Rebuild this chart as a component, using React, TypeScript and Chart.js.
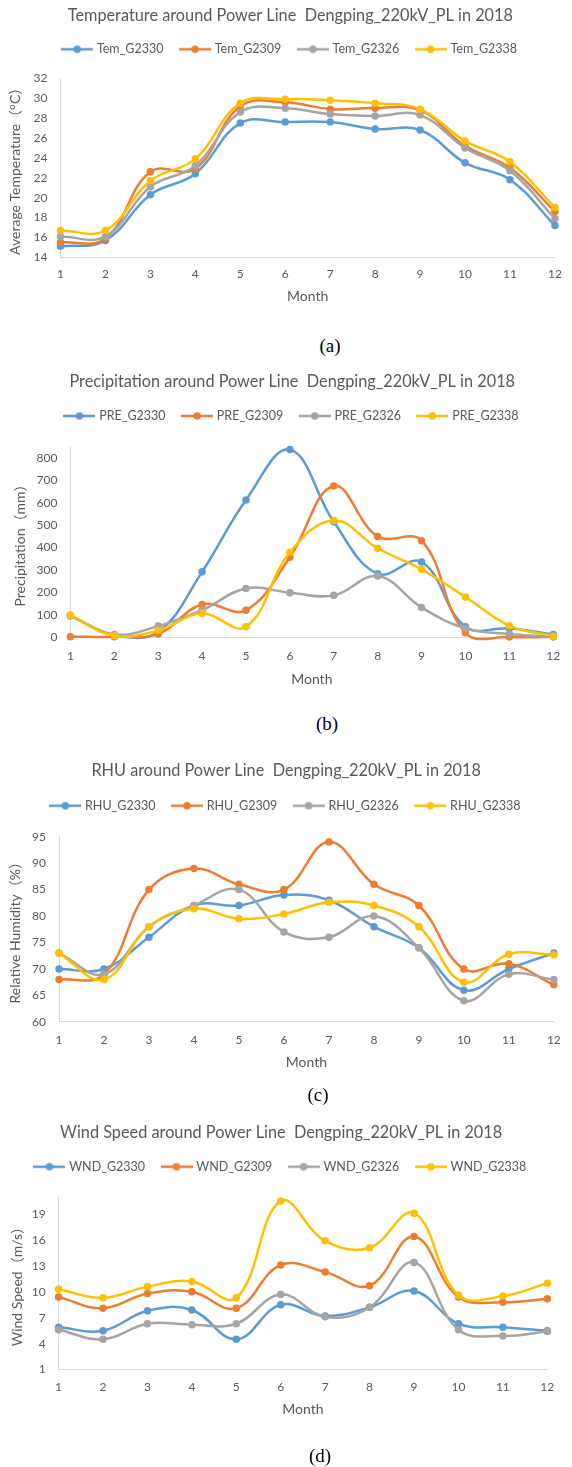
import React, { useEffect, useRef } from "react";
import { Chart, registerables } from "chart.js";

Chart.register(...registerables);

// ---------- data ----------
const months = ["1", "2", "3", "4", "5", "6", "7", "8", "9", "10", "11", "12"];
const stationIds = ["G2330", "G2309", "G2326", "G2338"];
const seriesColors = ["#5B9BD5", "#ED7D31", "#A5A5A5", "#FFC000"];

const temG2330 = [15.1, 15.7, 20.3, 22.4, 27.5, 27.6, 27.6, 26.9, 26.8, 23.5, 21.8, 17.2];
const temG2309 = [15.5, 15.9, 22.6, 22.9, 29.2, 29.6, 28.9, 29.0, 28.8, 25.2, 23.0, 18.6];
const temG2326 = [16.1, 16.1, 21.1, 23.2, 28.6, 29.0, 28.4, 28.2, 28.3, 25.0, 22.7, 17.9];
const temG2338 = [16.7, 16.7, 21.7, 23.9, 29.5, 29.9, 29.8, 29.5, 28.9, 25.7, 23.6, 19.0];
const temTicks = [14, 16, 18, 20, 22, 24, 26, 28, 30, 32];

const preG2330 = [96, 10, 25, 292, 612, 837, 515, 283, 336, 47, 40, 12];
const preG2309 = [3, 2, 15, 146, 121, 357, 675, 450, 431, 20, 1, 2];
const preG2326 = [96, 13, 50, 121, 218, 199, 187, 273, 133, 40, 15, 3];
const preG2338 = [99, 7, 31, 106, 47, 379, 521, 397, 303, 180, 52, 5];
const preTicks = [0, 100, 200, 300, 400, 500, 600, 700, 800];

const rhuG2330 = [70, 70, 76, 82, 82, 84, 83, 78, 74, 66, 70, 73];
const rhuG2309 = [68, 69, 85, 89, 86, 85, 94, 86, 82, 70, 71, 67];
const rhuG2326 = [73, 69, 78, 82, 85, 77, 76, 80, 74, 64, 69, 68];
const rhuG2338 = [73, 68, 78, 81.4, 79.5, 80.4, 82.6, 82, 78, 67.5, 72.8, 72.7];
const rhuTicks = [60, 65, 70, 75, 80, 85, 90, 95];

const wndG2330 = [5.9, 5.5, 7.8, 7.9, 4.5, 8.5, 7.2, 8.2, 10.1, 6.3, 5.9, 5.5];
const wndG2309 = [9.4, 8.1, 9.8, 10.0, 8.1, 13.1, 12.3, 10.7, 16.4, 9.4, 8.8, 9.2];
const wndG2326 = [5.6, 4.5, 6.3, 6.2, 6.3, 9.7, 7.1, 8.2, 13.4, 5.6, 4.9, 5.4];
const wndG2338 = [10.3, 9.3, 10.6, 11.2, 9.3, 20.5, 15.9, 15.1, 19.1, 9.6, 9.5, 11.0];
const wndTicks = [1, 4, 7, 10, 13, 16, 19];

// ---------- style ----------
const FONT = "Lato, 'Noto Sans CJK SC', sans-serif";
const TEXT = "#595959";
const AXIS = "#D9D9D9";
const TITLE_FS = 16.3;
const LEGEND_FS = 12.5;
const TICK_FS = 12;
const AXIS_FS = 14;
const LEGEND_PAD = 18;

type Layout = {
  top: number;
  padLeft: number;
  titleY: number;
  legendY: number;
  plotTop: number;
  plotBottom: number;
  tickY: number;
  axisTitleY: number;
  plotLeft: number;
  plotRight: number;
  yTitleX: number;
};

type Panel = {
  title: string;
  yTitle: string;
  prefix: string;
  series: number[][];
  min: number;
  max: number;
  ticks: number[];
  layout: Layout;
};

const panels: Panel[] = [
  {
    title: "Temperature around Power Line  Dengping_220kV_PL in 2018",
    yTitle: "Average Temperature（°C）",
    prefix: "Tem",
    series: [temG2330, temG2309, temG2326, temG2338],
    min: 14,
    max: 32,
    ticks: temTicks,
    layout: { top: 0, padLeft: 19, titleY: 16, legendY: 49.3, plotTop: 78.3, plotBottom: 257.7, tickY: 275, axisTitleY: 297, plotLeft: 60.5, plotRight: 561.7, yTitleX: 15 },
  },
  {
    title: "Precipitation around Power Line  Dengping_220kV_PL in 2018",
    yTitle: "Precipitation（mm）",
    prefix: "PRE",
    series: [preG2330, preG2309, preG2326, preG2338],
    min: 0,
    max: 850,
    ticks: preTicks,
    layout: { top: 360, padLeft: 19, titleY: 381.7, legendY: 416, plotTop: 446.7, plotBottom: 637.7, tickY: 656.7, axisTitleY: 680, plotLeft: 70.4, plotRight: 565.5, yTitleX: 20.7 },
  },
  {
    title: "RHU around Power Line  Dengping_220kV_PL in 2018",
    yTitle: "Relative Humidity（%）",
    prefix: "RHU",
    series: [rhuG2330, rhuG2309, rhuG2326, rhuG2338],
    min: 60,
    max: 95,
    ticks: rhuTicks,
    layout: { top: 740, padLeft: 13, titleY: 771, legendY: 805.7, plotTop: 836.7, plotBottom: 1022.3, tickY: 1040.7, axisTitleY: 1063, plotLeft: 59, plotRight: 559.3, yTitleX: 15 },
  },
  {
    title: "Wind Speed around Power Line  Dengping_220kV_PL in 2018",
    yTitle: "Wind Speed（m/s）",
    prefix: "WND",
    series: [wndG2330, wndG2309, wndG2326, wndG2338],
    min: 1,
    max: 21,
    ticks: wndTicks,
    layout: { top: 1105, padLeft: 15, titleY: 1133, legendY: 1166.7, plotTop: 1196.7, plotBottom: 1370, tickY: 1388, axisTitleY: 1410, plotLeft: 58.6, plotRight: 547.3, yTitleX: 17.3 },
  },
];

const captions = [
  { text: "(a)", x: 330, y: 345 },
  { text: "(b)", x: 327, y: 723 },
  { text: "(c)", x: 318, y: 1094 },
  { text: "(d)", x: 320, y: 1455 },
];

function makeLegendIcon(color: string): HTMLCanvasElement {
  const c = document.createElement("canvas");
  c.width = 32;
  c.height = 10;
  const g = c.getContext("2d")!;
  g.strokeStyle = color;
  g.lineWidth = 2.5;
  g.beginPath();
  g.moveTo(0, 5);
  g.lineTo(32, 5);
  g.stroke();
  g.fillStyle = color;
  g.beginPath();
  g.arc(16, 5, 3.75, 0, Math.PI * 2);
  g.fill();
  return c;
}

function LinePanel({ panel }: { panel: Panel }) {
  const ref = useRef<HTMLCanvasElement>(null);
  const L = panel.layout;
  const axisLH = AXIS_FS * 1.2;
  const height = Math.round(L.axisTitleY + axisLH / 2 - L.top);

  useEffect(() => {
    if (!ref.current) return;
    const tickLH = TICK_FS * 1.2;
    const titlePadTop = L.titleY - L.top - TITLE_FS * 0.6;
    const titleBottom = L.titleY + TITLE_FS * 0.6;
    const titlePadBottom = L.legendY - LEGEND_FS / 2 - LEGEND_PAD - titleBottom;
    const legendBottom = L.legendY + LEGEND_FS / 2 + 10;
    const spacerPad = L.plotTop - legendBottom - 1;
    const xPad = L.tickY - L.plotBottom - tickLH / 2;
    const monthPadTop = L.axisTitleY - L.plotBottom - 2 * xPad - tickLH - axisLH / 2;
    const icons = seriesColors.map(makeLegendIcon);

    const chart = new Chart(ref.current, {
      type: "line",
      data: {
        labels: months,
        datasets: panel.series.map((d, i) => ({
          label: `${panel.prefix}_${stationIds[i]}`,
          data: d,
          borderColor: seriesColors[i],
          backgroundColor: seriesColors[i],
          pointBackgroundColor: seriesColors[i],
          pointBorderColor: seriesColors[i],
          pointBorderWidth: 0,
          pointRadius: 3.75,
          borderWidth: 2.5,
          tension: 0.4,
          fill: false,
          order: 4 - i,
          clip: { left: 8, right: 8, top: 8, bottom: 4 },
        })),
      },
      options: {
        animation: false,
        responsive: false,
        devicePixelRatio: 1,
        elements: { line: { capBezierPoints: false } },
        layout: { padding: { left: L.padLeft, right: 572 - L.plotRight, top: 0, bottom: 0 } },
        plugins: {
          tooltip: { enabled: false },
          title: {
            display: true,
            text: panel.title,
            color: TEXT,
            font: { family: FONT, size: TITLE_FS, weight: "normal", lineHeight: 1.2 },
            padding: { top: titlePadTop, bottom: titlePadBottom },
          },
          legend: {
            display: true,
            position: "top",
            labels: {
              usePointStyle: true,
              pointStyleWidth: 27,
              padding: LEGEND_PAD,
              color: TEXT,
              font: { family: FONT, size: LEGEND_FS },
              generateLabels: (ch: any) => {
                const items = (Chart as any).defaults.plugins.legend.labels.generateLabels(ch);
                return items.map((it: any) => ({ ...it, pointStyle: icons[it.datasetIndex], lineWidth: 0 }));
              },
              sort: (a: any, b: any) => a.datasetIndex - b.datasetIndex,
            },
          },
          subtitle: {
            display: true,
            text: "",
            position: "top",
            weight: 500,
            font: { size: 1, lineHeight: 1 },
            padding: { top: spacerPad, bottom: 0 },
          },
        },
        scales: {
          x: {
            type: "category",
            offset: false,
            grid: { display: false, drawTicks: false },
            border: { display: true, color: AXIS, width: 1 },
            ticks: {
              color: TEXT,
              font: { family: FONT, size: TICK_FS, lineHeight: 1.2 },
              padding: xPad,
              maxRotation: 0,
              autoSkip: false,
            },
            title: {
              display: true,
              text: "Month",
              color: TEXT,
              font: { family: FONT, size: AXIS_FS, lineHeight: 1.2 },
              padding: { top: monthPadTop, bottom: 0 },
            },
          },
          y: {
            min: panel.min,
            max: panel.max,
            grid: { display: false, drawTicks: false },
            border: { display: true, color: AXIS, width: 1 },
            afterBuildTicks: (s: any) => {
              s.ticks = panel.ticks.map((v) => ({ value: v }));
            },
            afterFit: (s: any) => {
              s.width = L.plotLeft - L.padLeft;
            },
            ticks: {
              color: TEXT,
              font: { family: FONT, size: TICK_FS, lineHeight: 1.2 },
              padding: 13,
            },
            title: {
              display: true,
              text: panel.yTitle,
              color: TEXT,
              font: { family: FONT, size: AXIS_FS, lineHeight: 1.2 },
              padding: { top: L.yTitleX - L.padLeft - axisLH / 2, bottom: 0 },
            },
          },
        },
      } as any,
    });
    return () => chart.destroy();
  }, [panel]);

  return (
    <canvas
      ref={ref}
      width={572}
      height={height}
      style={{ position: "absolute", left: 0, top: L.top, width: 572, height }}
    />
  );
}

export default function App() {
  return (
    <div style={{ position: "absolute", left: 0, top: 0, width: 572, height: 1467, background: "#ffffff", overflow: "hidden" }}>
      {panels.map((p) => (
        <LinePanel key={p.prefix} panel={p} />
      ))}
      {captions.map((c) => (
        <div
          key={c.text}
          style={{
            position: "absolute",
            left: c.x,
            top: c.y,
            transform: "translate(-50%, -50%)",
            fontFamily: "'Liberation Serif', 'Times New Roman', serif",
            fontSize: 19,
            color: "#000",
            lineHeight: 1,
            whiteSpace: "nowrap",
          }}
        >
          {c.text}
        </div>
      ))}
    </div>
  );
}
